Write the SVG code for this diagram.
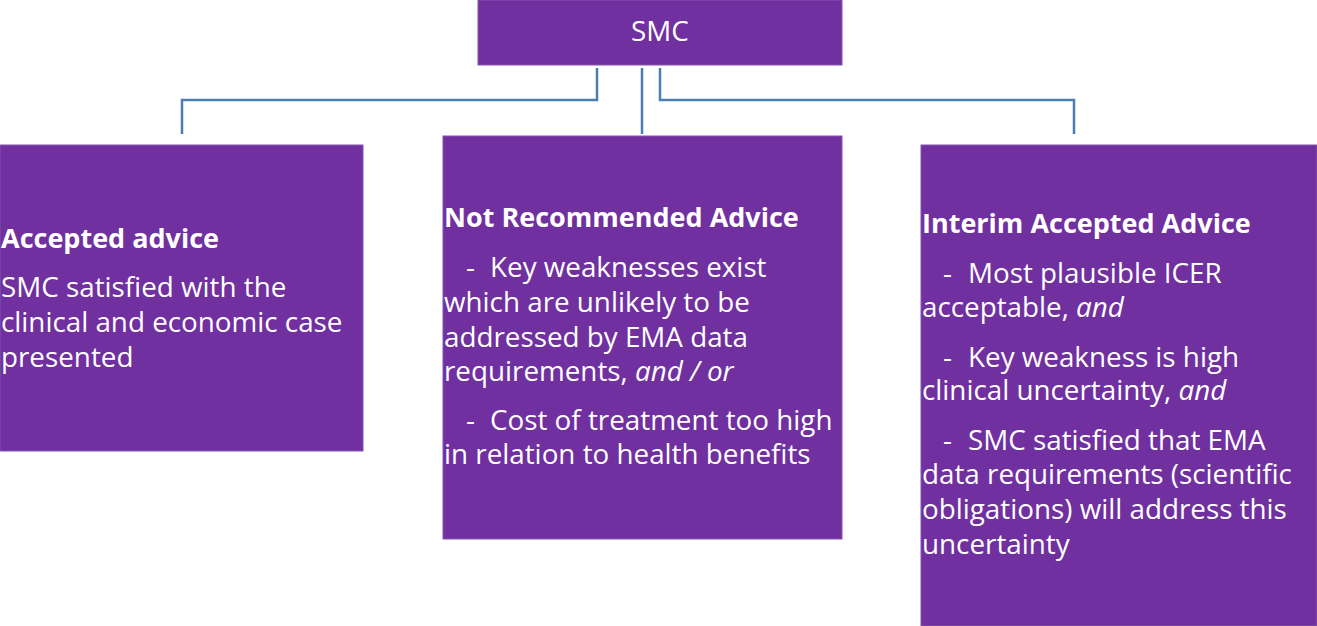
<svg xmlns="http://www.w3.org/2000/svg" width="1317" height="626" viewBox="0 0 1317 626">
<style>
.box{fill:#7030a0;stroke:#8454b0;stroke-width:1}
.t{font-family:"Open Sans","Noto Sans",sans-serif;fill:#ffffff;font-size:27.8px}
.h{font-weight:bold;font-size:27px}
.i{font-style:italic}
.c{fill:none;stroke:#4a7eb0;stroke-width:2.5}
</style>
<rect width="1317" height="626" fill="#ffffff"/>
<g id="connectors">
<polyline class="c" points="597,68 597,100 182,100 182,134"/>
<line class="c" x1="642" y1="68" x2="642" y2="134"/>
<polyline class="c" points="660,68 660,100 1074,100 1074,134"/>
</g>
<g id="node-smc">
<rect class="box" x="478" y="0" width="364" height="65"/>
<text class="t" x="660" y="41" text-anchor="middle" font-size="28">SMC</text>
</g>
<g id="node-accepted">
<rect class="box" x="0" y="145" width="363" height="306"/>
<text class="t h" x="1" y="248">Accepted advice</text>
<text class="t" x="1" y="297">SMC satisfied with the</text>
<text class="t" x="1" y="332">clinical and economic case</text>
<text class="t" x="1" y="367">presented</text>
</g>
<g id="node-not-recommended">
<rect class="box" x="443" y="136" width="399" height="403"/>
<text class="t h" x="444" y="227">Not Recommended Advice</text>
<text class="t" y="277"><tspan x="466">-</tspan><tspan x="490">Key weaknesses exist</tspan></text>
<text class="t" x="444" y="312">which are unlikely to be</text>
<text class="t" x="444" y="347">addressed by EMA data</text>
<text class="t" x="444" y="381">requirements, <tspan class="i">and / or</tspan></text>
<text class="t" y="430"><tspan x="466">-</tspan><tspan x="490">Cost of treatment too high</tspan></text>
<text class="t" x="444" y="464">in relation to health benefits</text>
</g>
<g id="node-interim">
<rect class="box" x="921" y="145" width="396" height="481"/>
<text class="t h" x="922" y="233">Interim Accepted Advice</text>
<text class="t" y="283"><tspan x="943">-</tspan><tspan x="968">Most plausible ICER</tspan></text>
<text class="t" x="922" y="317">acceptable, <tspan class="i">and</tspan></text>
<text class="t" y="367"><tspan x="943">-</tspan><tspan x="968">Key weakness is high</tspan></text>
<text class="t" x="922" y="400">clinical uncertainty, <tspan class="i">and</tspan></text>
<text class="t" y="450"><tspan x="943">-</tspan><tspan x="968">SMC satisfied that EMA</tspan></text>
<text class="t" x="922" y="484">data requirements (scientific</text>
<text class="t" x="922" y="519">obligations) will address this</text>
<text class="t" x="922" y="554">uncertainty</text>
</g>
</svg>
